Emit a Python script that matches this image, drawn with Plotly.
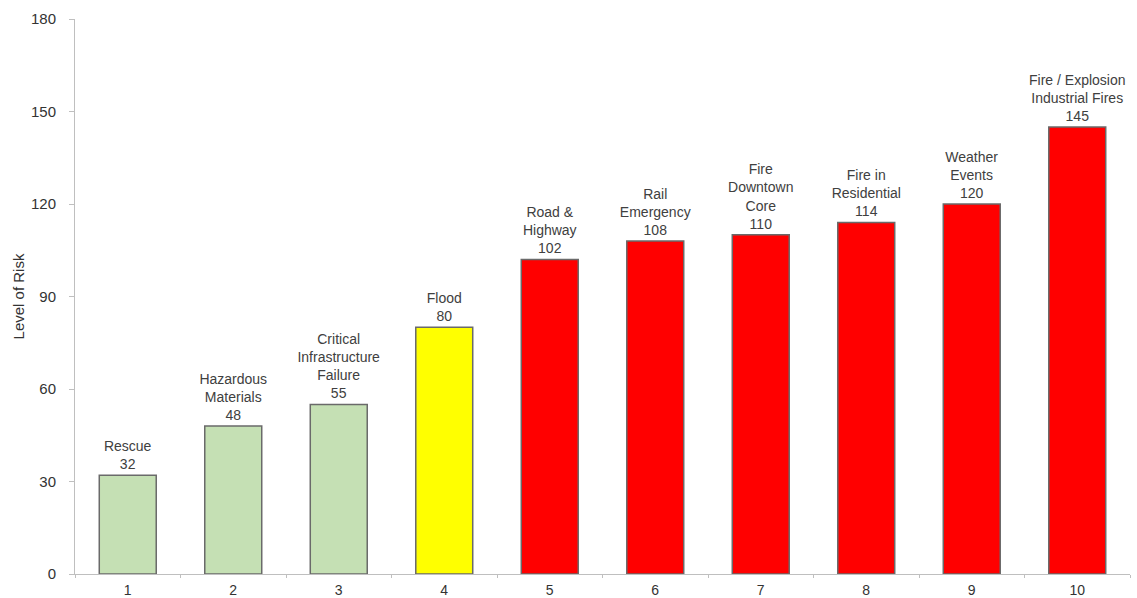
import plotly.graph_objects as go

categories = [1, 2, 3, 4, 5, 6, 7, 8, 9, 10]
values = [32, 48, 55, 80, 102, 108, 110, 114, 120, 145]
names = ["Rescue", "Hazardous<br>Materials", "Critical<br>Infrastructure<br>Failure", "Flood",
         "Road &<br>Highway", "Rail<br>Emergency", "Fire<br>Downtown<br>Core", "Fire in<br>Residential",
         "Weather<br>Events", "Fire / Explosion<br>Industrial Fires"]
colors = ["#C5E0B4"] * 3 + ["#FFFF00"] + ["#FF0000"] * 6
line_colors = ["#6A6A6A"] * 10
y_ticks = [0, 30, 60, 90, 120, 150, 180]

labels = [f"{n}<br>{v}" for n, v in zip(names, values)]

fig = go.Figure(go.Bar(
    x=categories, y=values, width=0.54,
    marker=dict(color=colors, line=dict(color=line_colors, width=1.5)),
    text=labels, textposition="outside", cliponaxis=False, constraintext="none",
    textfont=dict(family="Liberation Sans, Arial", size=14, color="#404040"),
))

fig.update_layout(
    width=1137, height=598,
    margin=dict(l=75, r=7, t=19, b=24),
    plot_bgcolor="white", paper_bgcolor="white",
    showlegend=False, uniformtext=dict(minsize=14, mode="show"),
    font=dict(family="Liberation Sans, Arial", size=14, color="#333333"),
)
fig.update_xaxes(
    range=[0.5, 10.5], tickvals=categories, ticktext=[str(c) for c in categories],
    showline=True, linecolor="#BFBFBF", linewidth=1, showgrid=False,
    ticks="", tickfont=dict(size=14, color="#333333"), zeroline=False,
    ticklabelstandoff=3, automargin=False,
    minor=dict(ticks="outside", tick0=0.5, dtick=1, ticklen=3, tickcolor="#BFBFBF", showgrid=False),
)
fig.update_yaxes(
    range=[0, 180], tickvals=y_ticks, showline=True, linecolor="#BFBFBF", linewidth=1,
    showgrid=False, ticks="outside", ticklen=5, tickcolor="#BFBFBF", zeroline=False,
    ticklabelstandoff=10, automargin=False,
    title=dict(text="Level of Risk", font=dict(size=15, color="#333333"), standoff=2),
    tickfont=dict(size=15, color="#333333"),
)

fig.write_html("out.html")
